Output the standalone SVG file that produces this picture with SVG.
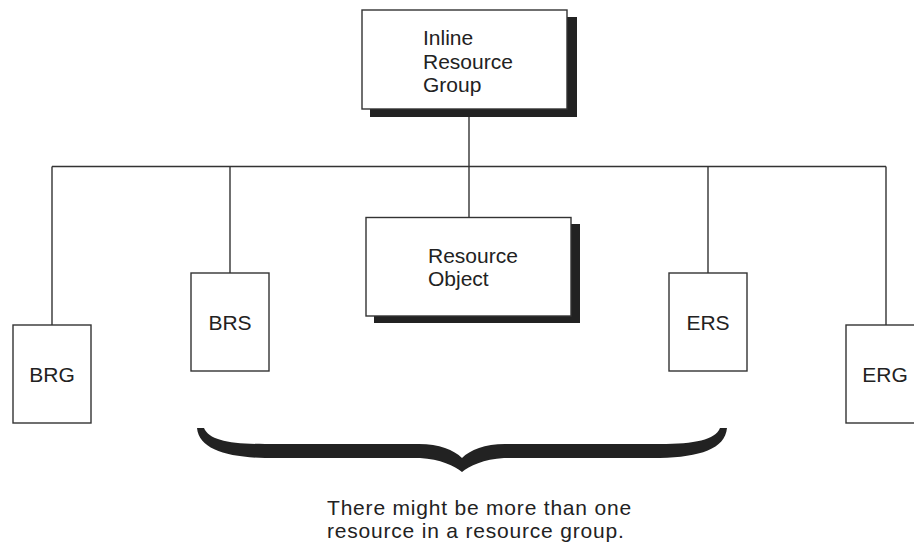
<svg xmlns="http://www.w3.org/2000/svg" width="914" height="542" viewBox="0 0 914 542">
<style>
.box{fill:#fff;stroke:#333;stroke-width:1.4}
.shadow{fill:#222}
.ln{fill:none;stroke:#333;stroke-width:1.4}
text{font-family:"Liberation Sans",Arial,sans-serif;font-size:21px;fill:#222}
.c{text-anchor:middle}
.note{letter-spacing:0.8px}
</style>
<rect width="914" height="542" fill="#fff"/>
<g id="connectors">
<line class="ln" x1="469" y1="110" x2="469" y2="217"/>
<line class="ln" x1="52" y1="166.5" x2="886" y2="166.5"/>
<line class="ln" x1="52" y1="166.5" x2="52" y2="325"/>
<line class="ln" x1="230" y1="166.5" x2="230" y2="273"/>
<line class="ln" x1="708" y1="166.5" x2="708" y2="273"/>
<line class="ln" x1="886" y1="166.5" x2="886" y2="325"/>
</g>
<g id="inline-resource-group">
<rect class="shadow" x="370" y="17" width="207" height="100"/>
<rect class="box" x="362" y="10" width="205" height="99"/>
<text x="423" y="45">Inline</text>
<text x="423" y="68.5">Resource</text>
<text x="423" y="92">Group</text>
</g>
<g id="resource-object">
<rect class="shadow" x="374" y="224" width="206" height="99"/>
<rect class="box" x="366" y="217.5" width="205" height="98.5"/>
<text x="428" y="263">Resource</text>
<text x="428" y="286">Object</text>
</g>
<g id="brg">
<rect class="box" x="13" y="325" width="78" height="98"/>
<text class="c" x="52" y="382">BRG</text>
</g>
<g id="brs">
<rect class="box" x="191" y="273" width="78" height="98"/>
<text class="c" x="230" y="330">BRS</text>
</g>
<g id="ers">
<rect class="box" x="669" y="273" width="78" height="98"/>
<text class="c" x="708" y="330">ERS</text>
</g>
<g id="erg">
<rect class="box" x="846" y="325" width="78" height="98"/>
<text class="c" x="885" y="382">ERG</text>
</g>
<g id="brace">
<path fill="#222" d="M197,428 C199,449 226,457 265,458 L420,458 C440,459 455,466 462,472 C469,466 484,459 504,458 L660,458 C700,457 725,449 727,428 L720,428 C715,440 695,444 660,444 L505,444 C485,444 470,450 462,458 C454,450 439,444 419,444 L265,444 C229,444 209,440 204,428 Z"/>
</g>
<g id="note">
<text class="note" x="327" y="515">There might be more than one</text>
<text class="note" x="327" y="538">resource in a resource group.</text>
</g>
</svg>
